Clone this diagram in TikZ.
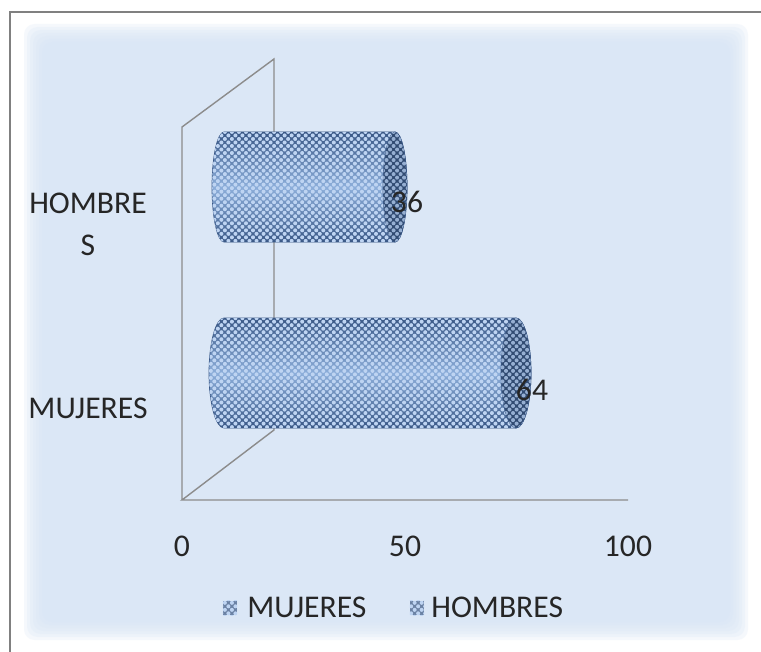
\documentclass[tikz,border=0pt]{standalone}
\usepackage{fontspec}
\setmainfont{Carlito}
\usepackage{xcolor}
\usepackage{tikz}
\usetikzlibrary{patterns}
\definecolor{fondo}{RGB}{216,230,246}
\definecolor{barraclara}{RGB}{140,174,218}
\definecolor{barraosc}{RGB}{58,88,134}
\definecolor{bola}{RGB}{190,212,242}
\definecolor{eje}{RGB}{140,140,140}
\definecolor{marco}{RGB}{128,128,128}
\pgfdeclarepatternformonly{bolitas}{\pgfqpoint{-1.3pt}{-1.3pt}}{\pgfqpoint{3.3pt}{3.3pt}}{\pgfqpoint{4pt}{4pt}}{
	\pgfpathcircle{\pgfqpoint{0pt}{0pt}}{1.15pt}
	\pgfpathcircle{\pgfqpoint{2pt}{2pt}}{1.15pt}
	\pgfusepath{fill}}

\begin{document}
\begin{tikzpicture}[x=0.02cm,y=-0.02cm,
	lbl/.style={font=\fontsize{18}{24}\selectfont,text=black!85,inner sep=0pt},
	axis/.style={draw=eje,line width=0.8pt},
	cyl/.style={top color=barraosc,bottom color=barraosc,middle color=barraclara,draw=barraosc,line width=0.4pt},
	tapa/.style={fill=barraosc!85!black,draw=barraosc,line width=0.4pt},
	dots/.style={pattern=bolitas,pattern color=bola},
	marca/.style={minimum size=8pt,inner sep=0pt,preaction={fill=barraosc!75},pattern=bolitas,pattern color=bola}]
    	\useasboundingbox (0,0) rectangle (761,652);
    	\fill[white] (0,0) rectangle (761,652);
    	% fondo difuminado
    	\foreach \i in {0,...,6}
    		\fill[fondo,opacity=0.25,rounded corners=6] (24+\i*3,24+\i*3) rectangle (748-\i*3,640-\i*3);
    	\draw[marco,line width=1.7pt] (10,652) -- (10,12) -- (761,12);
    	% ejes
    	\draw[axis] (182,500) -- (182,127) -- (274,59) -- (274,430) -- (182,500) -- (628,500);
    	% barras
    	\foreach \yc/\xr/\rx in {187/395/12, 373/516/15} {
    		\path[cyl,postaction={dots}] (224,\yc+55) arc[start angle=90,end angle=270,x radius=\rx,y radius=55]
    			-- (\xr,\yc-55) arc[start angle=-90,end angle=90,x radius=\rx,y radius=55] -- cycle;
    		\path[tapa,postaction={dots,pattern color=bola!70!barraosc}] (\xr,\yc) ellipse[x radius=\rx,y radius=55];
    	}
    	\node[lbl] (36) at (407,202) {36};
    	\node[lbl] (64) at (532,390) {64};
    	\node[lbl,align=center] (hombres) at (88,224) {HOMBRE\\S};
    	\node[lbl] (mujeres) at (88,408) {MUJERES};
    	\node[lbl] (t0) at (182,546) {0};
    	\node[lbl] (t50) at (405,546) {50};
    	\node[lbl] (t100) at (628,546) {100};
    	% leyenda
    	\node[marca] (m1) at (230,608) {};
    	\node[lbl,anchor=west] (l1) at (247,607) {MUJERES};
    	\node[marca] (m2) at (417,608) {};
    	\node[lbl,anchor=west] (l2) at (431,607) {HOMBRES};
    \end{tikzpicture}
\end{document}
